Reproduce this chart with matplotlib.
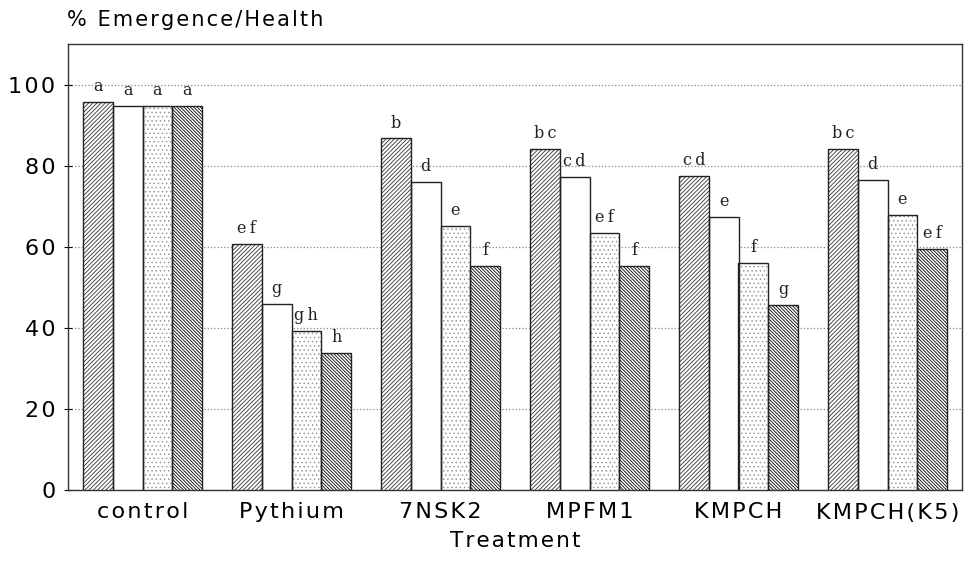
import numpy as np
import matplotlib
matplotlib.use('Agg')
import matplotlib.pyplot as plt

plt.rcParams['hatch.linewidth'] = 0.6

treatments = ['control', 'Pythium', '7NSK2', 'MPFM1', 'KMPCH', 'KMPCH(K5)']
series_1 = [95.6, 60.7, 86.7, 84.2, 77.5, 84.0]
series_2 = [94.8, 45.9, 76.0, 77.3, 67.4, 76.5]
series_3 = [94.8, 39.3, 65.2, 63.5, 56.0, 67.9]
series_4 = [94.8, 33.8, 55.3, 55.2, 45.7, 59.5]
letters_1 = ['a', 'ef', 'b', 'bc', 'cd', 'bc']
letters_2 = ['a', 'g', 'd', 'cd', 'e', 'd']
letters_3 = ['a', 'gh', 'e', 'ef', 'f', 'e']
letters_4 = ['a', 'h', 'f', 'f', 'g', 'ef']
y_ticks = [0, 20, 40, 60, 80, 100]

STYLES = [
    dict(hatch='////////', edgecolor='#333333'),
    dict(hatch='', edgecolor='black'),
    dict(hatch='....', edgecolor='#9a9a9a'),
    dict(hatch='\\\\\\\\\\\\\\\\\\\\', edgecolor='black'),
]


def spaced(s, sep='\u200a'):
    # scanned figure used letter-spaced labels
    return sep.join(s)


fig = plt.figure(figsize=(9.65, 5.61), dpi=100)
ax = fig.add_axes([68 / 965, 1 - 490 / 561, 894 / 965, 446 / 561])

x = np.arange(len(treatments))
w = 0.2
all_series = [series_1, series_2, series_3, series_4]
all_letters = [letters_1, letters_2, letters_3, letters_4]
for k, (vals, lets, st) in enumerate(zip(all_series, all_letters, STYLES)):
    xs = x + (k - 1.5) * w
    ax.bar(xs, vals, width=w, facecolor='white',
           hatch=st['hatch'], edgecolor=st['edgecolor'],
           linewidth=0, zorder=3)
    # outline drawn separately in black
    ax.bar(xs, vals, width=w, facecolor='none', edgecolor='#222222',
           linewidth=1.0, zorder=4)
    for xi, v, lt in zip(xs, vals, lets):
        ax.annotate(spaced(lt, '\u200a\u200a'), (xi, v),
                    xytext=(0, 5), textcoords='offset points',
                    ha='center', va='bottom', fontsize=11.5,
                    family='DejaVu Serif', color='#222222')

ax.set_xlim(-0.5, len(treatments) - 0.5)
ax.set_ylim(0, 110)
ax.set_yticks(y_ticks)
ax.set_yticklabels([spaced(str(v)) for v in y_ticks])
ax.set_xticks(x)
ax.set_xticklabels([spaced(t) for t in treatments])
ax.tick_params(axis='x', length=0, pad=9, labelsize=16)
ax.tick_params(axis='y', direction='inout', length=6, labelsize=16, pad=6)
ax.yaxis.grid(True, linestyle=':', color='#888888', linewidth=0.9, zorder=0)
ax.set_axisbelow(True)
for sp in ax.spines.values():
    sp.set_linewidth(1.0)
    sp.set_color('#333333')
ax.set_xlabel(spaced('Treatment'), fontsize=15.5, labelpad=6)
fig.text(67 / 965, 1 - 20 / 561, spaced('% Emergence/Health'),
         fontsize=15, ha='left', va='center')

fig.savefig('out.png', dpi=100, facecolor='white')
